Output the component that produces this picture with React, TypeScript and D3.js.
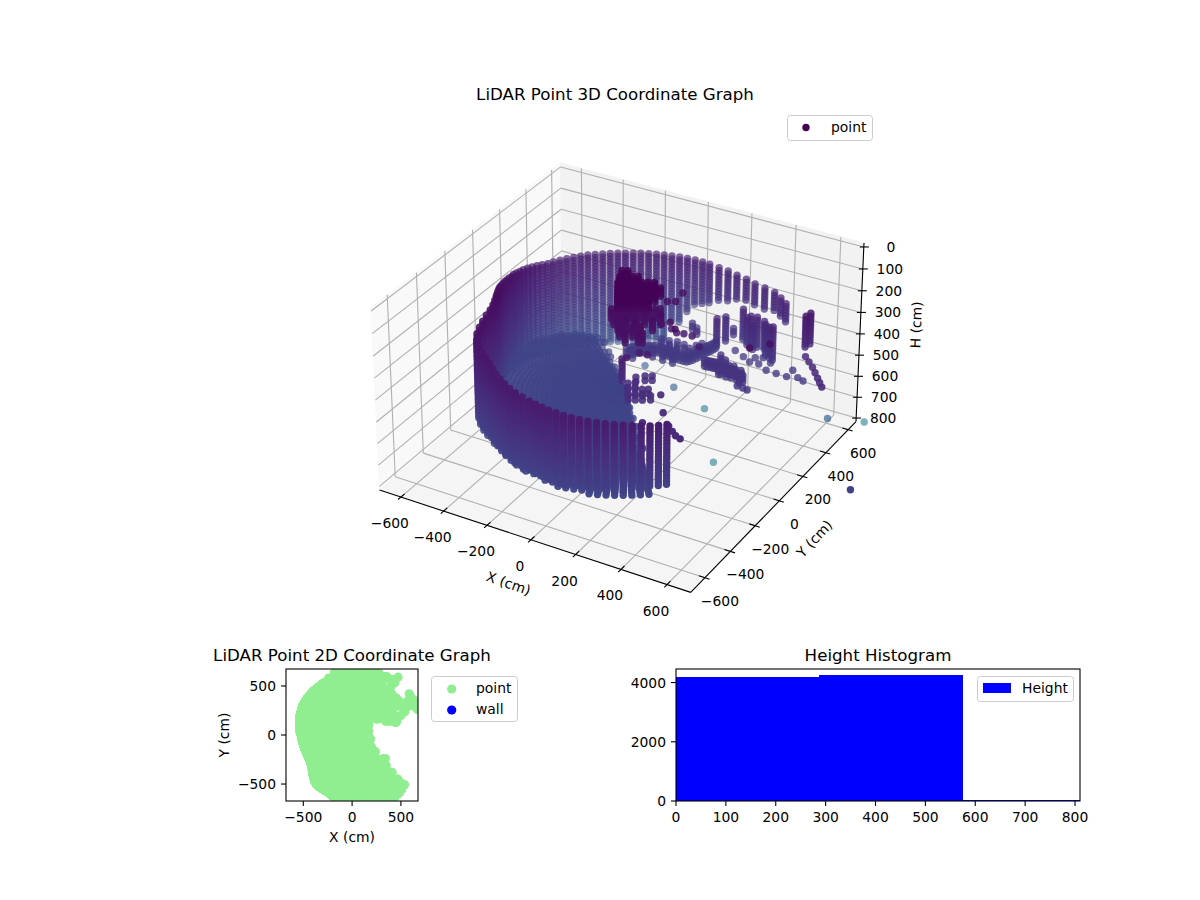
import * as d3 from "d3";
import { useMemo } from "react";

// ---- data ----
// scan columns of the round wall: azimuth (deg), range (cm), first and last height (cm)
const wallAngle = [
  51, 55, 59, 63, 67, 71, 75, 79, 83, 87,
  90, 93, 96, 99, 102, 105, 108, 111, 114, 117,
  120, 123, 126, 129, 132, 135, 138, 141, 144, 147,
  150, 153, 156, 159, 162, 165, 168, 171, 174, 177,
  180, 183, 186, 189, 192, 195, 198, 201, 204, 207,
  210, 213, 216, 219, 222, 225, 228, 231, 234, 237,
  240, 243, 246, 249, 252, 255, 258, 261, 264, 267,
  270, 272.5, 275, 277.5, 280, 282.5, 285, 287.5, 290, 292.5,
  295, 297.5, 300, 302.5, 305, 307.5, 310, 312.5,
];
const wallRange = [
  690, 690, 688, 672, 657, 650, 641, 637, 634, 631,
  630, 627, 623, 619, 615, 612, 610, 607, 604, 601,
  599, 597, 596, 595, 594, 593, 591, 589, 587, 585,
  582, 577, 572, 567, 561, 555, 550, 542, 536, 530,
  520, 516, 512, 509, 506, 504, 502, 500, 499, 499,
  500, 505, 513, 526, 545, 565, 585, 605, 618, 624,
  626, 627, 630, 640, 650, 660, 670, 680, 690, 697,
  703, 710, 718, 725, 731, 738, 744, 748, 752, 756,
  759, 761, 762, 762, 761, 759, 755, 748,
];
const wallTop = [
  268, 267, 265, 263, 260, 256, 252, 248, 246, 243,
  241, 239, 237, 235, 234, 233, 232, 231, 230, 229,
  228, 227, 226, 225, 224, 222, 221, 220, 219, 217,
  216, 212, 205, 198, 190, 182, 175, 168, 160, 152,
  146, 138, 132, 126, 120, 114, 108, 102, 98, 94,
  90, 92, 96, 102, 108, 115, 122, 130, 140, 150,
  158, 164, 170, 175, 180, 182, 184, 186, 188, 190,
  193, 194, 195, 195, 196, 197, 198, 199, 200, 200,
  201, 202, 203, 206, 210, 214, 218, 222,
];
const wallBottom = [
  361, 360, 362, 369, 367, 362, 372, 392, 410, 428,
  446, 461, 497, 545, 544, 640, 650, 650, 650, 650,
  650, 650, 650, 650, 650, 650, 650, 650, 650, 650,
  650, 650, 650, 650, 650, 645, 640, 630, 620, 605,
  590, 575, 560, 555, 550, 545, 530, 515, 500, 485,
  475, 470, 470, 470, 470, 470, 475, 480, 490, 500,
  510, 515, 515, 515, 515, 515, 515, 515, 515, 515,
  510, 510, 510, 509, 508, 507, 505, 504, 503, 502,
  501, 501, 500, 498, 496, 493, 491, 490,
];
const scanDepth = [
  0, 14, 28, 42, 56, 70, 84, 98, 112, 126, 140, 154, 168, 182, 196, 210,
  224, 238, 252, 266, 280, 294, 308, 322, 336, 350, 364, 378, 392, 406, 420,
];

// floor rings: range (cm), start and end azimuth
const floorHeight = 530;
const floorRange = [
  20, 40, 60, 80, 100, 120, 140, 160, 180, 200, 220, 240, 260, 280, 300, 320, 340, 360, 380,
  400, 420, 440, 460, 480, 500, 520, 540, 560, 580, 600, 620, 640, 660, 680, 700, 720, 740, 760,
];
const floorStart = [
  136, 130, 138, 134, 136, 128, 140, 132, 136, 130, 138, 134, 136, 132, 138, 130, 136, 134, 138,
  132, 136, 134, 136, 140, 144, 150, 158, 170, 185, 195, 203, 210, 216, 222, 228, 235, 242, 250,
];
const floorEnd = [
  312, 305, 310, 300, 308, 312, 302, 309, 305, 311, 303, 307, 312, 304, 309, 306, 311, 303, 308,
  305, 310, 304, 309, 309, 309, 309, 309, 309, 309, 309, 309, 309, 309, 309, 309, 309, 309, 309,
];

// objects inside the room, [x, y] at one height
const clumpTop = [
  [-49, 64], [-29, 75], [-33, 20], [-12, 31], [8, 43], [29, 55],
  [-16, -24], [4, -13], [25, -1], [45, 11], [66, 22], [86, 35], [107, 46],
  [7, -63], [27, -52], [48, -40], [68, -28], [89, -17], [109, -4], [130, 7], [150, 19],
  [30, -103], [50, -91], [71, -80], [91, -68], [112, -57], [132, -44], [153, -33],
  [53, -143], [73, -131], [94, -120], [114, -108], [135, -96], [155, -84],
];
const clumpLow = [
  [-3, -95], [18, -83], [38, -71], [59, -60], [79, -48], [100, -37], [120, -24], [141, -13], [161, -1],
  [28, -130], [48, -118], [69, -106], [96, -91], [131, -71], [185, -40],
  [65, -162], [92, -146], [126, -127], [181, -96],
  [94, -197], [136, -174], [163, -159], [135, -227], [179, -202], [193, -195],
];
const upperSpots = [
  [588, -63], [641, 1], [159, 181], [140, 92], [168, 108], [206, -71], [229, -43], [271, -79],
];
const purpleSpots = [
  [191, 35], [224, 18], [252, 26], [288, 27], [352, -32], [174, -184], [208, -182], [150, -240],
];
const floorBand = [
  [-82, 156], [-69, 182], [-44, 195], [-24, 216], [-4, 228], [25, 235], [57, 235], [90, 226],
  [122, 227], [153, 228], [167, 253], [179, 287], [187, 327], [196, 350], [203, 380], [1, 292],
  [36, 294], [68, 303], [103, 297], [55, 261], [91, 255], [136, 281], [149, 314], [162, 339],
  [-49, 148], [16, 195], [63, 194], [109, 193],
  [-75, 170], [-56, 188], [-34, 205], [-14, 222], [10, 232], [41, 235], [73, 230], [106, 226],
  [138, 227], [160, 240], [173, 270], [183, 307], [191, 338], [200, 365],
];
const floorScatter = [
  [298, 368], [349, 342], [390, 318], [394, 358], [429, 322], [421, 374], [477, 294], [466, 352],
  [523, 292], [570, 291], [569, 346], [612, 306], [642, 293],
];
const diagonalBand = [
  [266, 171], [288, 174], [310, 177], [331, 181], [304, 236], [338, 211], [345, 143], [378, 143],
  [399, 146], [425, 143], [446, 128], [368, 182], [390, 186], [442, 153],
  [277, 172], [299, 175], [320, 179], [352, 150], [369, 165], [389, 165], [410, 165], [430, 170], [455, 140],
  [248, 444], [84, 399], [118, 374],
];
const diagonalEnd = [[465, 75], [491, 72], [513, 67]];
const frontSpots = [
  [391, -379], [319, -271], [358, -478], [456, -451], [486, -476], [512, -497], [537, -507],
];
const frontBlob = [
  [142, -216], [166, -202], [165, -256], [189, -242], [213, -229], [233, -217], [189, -295],
  [213, -282], [237, -269], [264, -253], [146, -162], [173, -138], [197, -124],
];
const sideBand = [
  [668, 255], [698, 226], [729, 196], [756, 165], [783, 134], [805, 108], [827, 83],
];
// columns standing on their own: x, y, top and bottom height
const standColumns = [
  [226, 343, 300, 430], [242, 388, 310, 430], [290, 446, 290, 430], [343, 412, 290, 430],
  [376, 403, 280, 430], [401, 417, 300, 430], [478, 343, 265, 430], [320, 425, 310, 440],
  [360, 398, 320, 440], [420, 395, 300, 440], [450, 370, 290, 440], [633, 319, 160, 300],
  [638, 350, 160, 300], [106, -200, 240, 350],
];
// lone returns far below: x, y, height
const strayPoints = [
  [549, 1079, 1090], [144, 486, 1090], [-94, 838, 1090], [616, 581, 780],
  [1121, -244, 488], [-48, 485, 780], [-197, 505, 730],
];

// extra coverage of the plan view
const planRowY = [640, 580, 520, 460, 400, 340, 280, 220, 160, 100, 40, -30, -100, -170, -240, -310, -380, -450, -520];
const planRowStart = [-150, -250, -320, -390, -440, -470, -500, -510, -520, -520, -520, -520, -500, -480, -420, -380, -300, -250, -150];
const planRowEnd = [270, 230, 310, 340, 350, 360, 400, 420, 420, 170, 170, 150, 170, 240, 340, 350, 410, 470, 500];
const planColX = [-520, -450, -380, -310, -240, -170, -100, -30, 40, 110, 180, 250, 320, 390, 460];
const planExtra = [
  [440, 560], [470, 590], [400, 500], [420, 530], [467, 170], [540, 237], [500, 200], [585, 420],
  [600, 390], [620, 340], [640, 300], [670, 260], [655, 280], [-181, 637],
];

// histogram
const histEdges = [0, 287.7, 575.5, 863];
const histCounts = [4180, 4246, 34];

const xTicks3d = [-600, -400, -200, 0, 200, 400, 600];
const yTicks3d = [-600, -400, -200, 0, 200, 400, 600];
const hTicks3d = [0, 100, 200, 300, 400, 500, 600, 700, 800];
const ticks2d = [-500, 0, 500];
const histXTicks = [0, 100, 200, 300, 400, 500, 600, 700, 800];
const histYTicks = [0, 2000, 4000];

const colorMax = 2600;
const font = "DejaVu Sans";
const fmt = (v: number) => String(v).replace("-", "\u2212");

// ---- 3D view, elevation 30, azimuth -60, camera distance 10 ----
const xLim = [-701, 702];
const yLim = [-709, 671];
const hLim = [817, -18];
const xs = d3.scaleLinear().domain(xLim).range([-0.595, 0.595]);
const ys = d3.scaleLinear().domain(yLim).range([-0.595, 0.595]);
const hs = d3.scaleLinear().domain(hLim).range([-0.343, 0.343]);

const project = (x: number, y: number, h: number) => {
  const qx = xs(x);
  const qy = ys(y);
  const qz = hs(h);
  const u = 0.866 * qx + 0.5 * qy;
  const v = -0.25 * qx + 0.433 * qy + 0.866 * qz;
  const w = 0.433 * qx - 0.75 * qy + 0.5 * qz;
  const d = 10 - w;
  return { px: 622.2 + (2980 * u) / d, py: 366.3 - (3043 * v) / d, d };
};

type P = { x: number; y: number; h: number; plan: boolean };

const buildPoints = (): P[] => {
  const pts: P[] = [];
  wallAngle.forEach((a, i) => {
    const rad = (a * Math.PI) / 180;
    const x = wallRange[i] * Math.cos(rad);
    const y = wallRange[i] * Math.sin(rad);
    scanDepth.forEach((dep) => {
      const h = wallTop[i] + dep;
      if (h <= wallBottom[i]) pts.push({ x, y, h, plan: true });
    });
  });
  floorRange.forEach((r, i) => {
    wallAngle.forEach((a, k) => {
      if (a >= floorStart[i] && a <= floorEnd[i] && r < wallRange[k] - 10) {
        const rad = (a * Math.PI) / 180;
        pts.push({ x: r * Math.cos(rad), y: r * Math.sin(rad), h: floorHeight, plan: true });
      }
    });
  });
  const sets: [number[][], number, boolean][] = [
    [clumpTop, 20, true], [clumpTop, 32, true], [clumpTop, 44, true], [clumpTop, 56, true],
    [clumpLow, 100, true], [clumpLow, 115, true], [clumpLow, 130, true], [clumpLow, 145, true],
    [upperSpots, 120, false], [purpleSpots, 200, false],
    [floorBand, 432, true], [floorBand, 448, true], [floorBand, 464, true], [floorScatter, 440, true],
    [diagonalBand, 390, true], [diagonalBand, 405, true], [diagonalBand, 420, true], [diagonalEnd, 400, false],
    [frontSpots, 300, true], [frontBlob, 330, true], [frontBlob, 350, true], [sideBand, 300, false],
  ];
  sets.forEach(([list, h, plan]) => list.forEach(([x, y]) => pts.push({ x, y, h, plan })));
  standColumns.forEach(([x, y, top, bottom]) => {
    scanDepth.forEach((dep) => {
      if (top + dep <= bottom) pts.push({ x, y, h: top + dep, plan: true });
    });
  });
  strayPoints.forEach(([x, y, h]) => pts.push({ x, y, h, plan: false }));
  return pts;
};

const Txt = ({ x, y, anchor = "middle", size = 13.89, rotate, children }: any) => (
  <text
    x={x}
    y={y}
    textAnchor={anchor}
    fontFamily={font}
    fontSize={size}
    fill="#000"
    transform={rotate !== undefined ? `rotate(${rotate} ${x} ${y})` : undefined}
  >
    {children}
  </text>
);

const Line3 = ({ a, b, stroke, width }: any) => {
  const p = project(a[0], a[1], a[2]);
  const q = project(b[0], b[1], b[2]);
  return <line x1={p.px} y1={p.py} x2={q.px} y2={q.py} stroke={stroke} strokeWidth={width} />;
};

const Pane = ({ corners, fill }: any) => (
  <polygon
    points={corners.map((c: number[]) => {
      const p = project(c[0], c[1], c[2]);
      return `${p.px},${p.py}`;
    }).join(" ")}
    fill={fill}
    stroke={fill}
    strokeWidth={1}
  />
);

const App = () => {
  const points = useMemo(buildPoints, []);
  const cloud = useMemo(() => {
    const projected = points.map((p) => ({ ...p, ...project(p.x, p.y, p.h) }));
    const shade = d3.scaleLinear().domain([9.45, 10.55]).range([1, 0.6]).clamp(true);
    return projected
      .sort((a, b) => b.d - a.d)
      .map((p) => ({ ...p, alpha: shade(p.d), color: d3.interpolateViridis(p.h / colorMax) }));
  }, [points]);

  const [x0, x1] = xLim;
  const [y0, y1] = yLim;
  const [hBottom, hTop] = hLim;

  const gridColor = "#b0b0b0";

  // plan view scales
  const planX = d3.scaleLinear().domain([-677, 675]).range([286, 418]);
  const planY = d3.scaleLinear().domain([-673, 673]).range([801, 669]);
  const planPoints: number[][] = points.filter((p) => p.plan).map((p) => [p.x, p.y]);
  planRowY.forEach((y, i) => {
    planColX.forEach((x) => {
      if (x >= planRowStart[i] && x <= planRowEnd[i]) planPoints.push([x, y]);
    });
    planPoints.push([planRowEnd[i], y]);
  });
  planExtra.forEach((p) => planPoints.push(p));

  // histogram scales
  const histX = d3.scaleLinear().domain([0, 810]).range([676, 1080]);
  const histY = d3.scaleLinear().domain([0, 4458]).range([801, 669]);

  return (
    <svg width={1200} height={900} style={{ position: "absolute", left: 0, top: 0, background: "#fff" }}>
      <defs>
        <clipPath id="plan-clip"><rect x={286} y={669} width={132} height={132} /></clipPath>
        <clipPath id="hist-clip"><rect x={676} y={669} width={404} height={132} /></clipPath>
      </defs>

      {/* panes */}
      <Pane corners={[[x0, y0, hBottom], [x0, y1, hBottom], [x0, y1, hTop], [x0, y0, hTop]]} fill="#f9f9f9" />
      <Pane corners={[[x0, y1, hBottom], [x1, y1, hBottom], [x1, y1, hTop], [x0, y1, hTop]]} fill="#f2f2f2" />
      <Pane corners={[[x0, y0, hBottom], [x1, y0, hBottom], [x1, y1, hBottom], [x0, y1, hBottom]]} fill="#f5f5f5" />

      {/* grid */}
      {xTicks3d.map((t) => (
        <g key={`gx${t}`}>
          <Line3 a={[t, y0, hBottom]} b={[t, y1, hBottom]} stroke={gridColor} width={1.1} />
          <Line3 a={[t, y1, hBottom]} b={[t, y1, hTop]} stroke={gridColor} width={1.1} />
        </g>
      ))}
      {yTicks3d.map((t) => (
        <g key={`gy${t}`}>
          <Line3 a={[x0, t, hBottom]} b={[x1, t, hBottom]} stroke={gridColor} width={1.1} />
          <Line3 a={[x0, t, hBottom]} b={[x0, t, hTop]} stroke={gridColor} width={1.1} />
        </g>
      ))}
      {hTicks3d.map((t) => (
        <g key={`gh${t}`}>
          <Line3 a={[x0, y0, t]} b={[x0, y1, t]} stroke={gridColor} width={1.1} />
          <Line3 a={[x0, y1, t]} b={[x1, y1, t]} stroke={gridColor} width={1.1} />
        </g>
      ))}

      {/* axis lines */}
      <Line3 a={[x0, y0, hBottom]} b={[x1, y0, hBottom]} stroke="#000" width={1.1} />
      <Line3 a={[x1, y0, hBottom]} b={[x1, y1, hBottom]} stroke="#000" width={1.1} />
      <Line3 a={[x1, y1, hBottom]} b={[x1, y1, hTop]} stroke="#000" width={1.1} />

      {/* ticks and labels */}
      {xTicks3d.map((t) => {
        const p = project(t, y0, hBottom);
        return (
          <g key={`tx${t}`}>
            <Line3 a={[t, y0 + 26, hBottom]} b={[t, y0 - 20, hBottom]} stroke="#000" width={1.1} />
            <Txt x={p.px - 11} y={p.py + 31}>{fmt(t)}</Txt>
          </g>
        );
      })}
      {yTicks3d.map((t) => {
        const p = project(x1, t, hBottom);
        return (
          <g key={`ty${t}`}>
            <Line3 a={[x1 - 26, t, hBottom]} b={[x1 + 20, t, hBottom]} stroke="#000" width={1.1} />
            <Txt x={p.px + 15} y={p.py + 28}>{fmt(t)}</Txt>
          </g>
        );
      })}
      {hTicks3d.map((t) => {
        const p = project(x1, y1, t);
        return (
          <g key={`th${t}`}>
            <line x1={p.px - 4} y1={p.py} x2={p.px + 5} y2={p.py} stroke="#000" strokeWidth={1.1} />
            <Txt x={p.px + 27} y={p.py + 5}>{fmt(t)}</Txt>
          </g>
        );
      })}
      <Txt x={507} y={588} rotate={19}>X (cm)</Txt>
      <Txt x={818} y={542} rotate={-47}>Y (cm)</Txt>
      <Txt x={921} y={325} rotate={-88}>H (cm)</Txt>
      <Txt x={615} y={100} size={16.67}>LiDAR Point 3D Coordinate Graph</Txt>

      {/* point cloud */}
      <g>
        {cloud.map((p, i) => (
          <circle key={i} cx={p.px} cy={p.py} r={3.7} fill={p.color} fillOpacity={p.alpha} />
        ))}
      </g>

      {/* 3D legend */}
      <rect x={787.5} y={115.5} width={85} height={25} rx={3} fill="#fff" fillOpacity={0.8} stroke="#ccc" />
      <circle cx={806} cy={127.5} r={3.7} fill={d3.interpolateViridis(0)} />
      <Txt x={831} y={132} anchor="start">point</Txt>

      {/* plan view */}
      <g clipPath="url(#plan-clip)">
        {planPoints.map((p, i) => (
          <circle key={i} cx={planX(p[0])} cy={planY(p[1])} r={4.6} fill="#90ee90" />
        ))}
      </g>
      <rect x={286} y={669} width={132} height={132} fill="none" stroke="#000" strokeWidth={1.1} />
      {ticks2d.map((t) => (
        <g key={`p${t}`}>
          <line x1={planX(t)} x2={planX(t)} y1={801} y2={806} stroke="#000" strokeWidth={1.1} />
          <Txt x={planX(t)} y={822}>{fmt(t)}</Txt>
          <line x1={281} x2={286} y1={planY(t)} y2={planY(t)} stroke="#000" strokeWidth={1.1} />
          <Txt x={276} y={planY(t) + 5} anchor="end">{fmt(t)}</Txt>
        </g>
      ))}
      <Txt x={352} y={842}>X (cm)</Txt>
      <Txt x={229} y={735} rotate={-90}>Y (cm)</Txt>
      <Txt x={352} y={661} size={16.67}>LiDAR Point 2D Coordinate Graph</Txt>
      <rect x={431.5} y={676.5} width={86} height={45} rx={3} fill="#fff" stroke="#ccc" />
      <circle cx={451.7} cy={689} r={4.6} fill="#90ee90" />
      <circle cx={451.7} cy={710} r={4.6} fill="#0000ff" />
      <Txt x={476} y={693} anchor="start">point</Txt>
      <Txt x={476} y={714} anchor="start">wall</Txt>

      {/* histogram */}
      <g clipPath="url(#hist-clip)" shapeRendering="crispEdges">
        {histCounts.map((c, i) => (
          <rect
            key={i}
            x={histX(histEdges[i])}
            y={histY(c)}
            width={histX(histEdges[i + 1]) - histX(histEdges[i])}
            height={801 - histY(c)}
            fill="#0000ff"
          />
        ))}
      </g>
      <rect x={676} y={669} width={404} height={132} fill="none" stroke="#000" strokeWidth={1.1} />
      {histXTicks.map((t) => (
        <g key={`hx${t}`}>
          <line x1={histX(t)} x2={histX(t)} y1={801} y2={806} stroke="#000" strokeWidth={1.1} />
          <Txt x={histX(t)} y={822}>{t}</Txt>
        </g>
      ))}
      {histYTicks.map((t) => (
        <g key={`hy${t}`}>
          <line x1={671} x2={676} y1={histY(t)} y2={histY(t)} stroke="#000" strokeWidth={1.1} />
          <Txt x={666} y={histY(t) + 5} anchor="end">{t}</Txt>
        </g>
      ))}
      <Txt x={878} y={661} size={16.67}>Height Histogram</Txt>
      <rect x={977.5} y={676.5} width={96} height={25} rx={3} fill="#fff" fillOpacity={0.8} stroke="#ccc" />
      <rect x={983} y={683} width={28} height={10} fill="#0000ff" />
      <Txt x={1022} y={693} anchor="start">Height</Txt>
    </svg>
  );
};

export default App;
